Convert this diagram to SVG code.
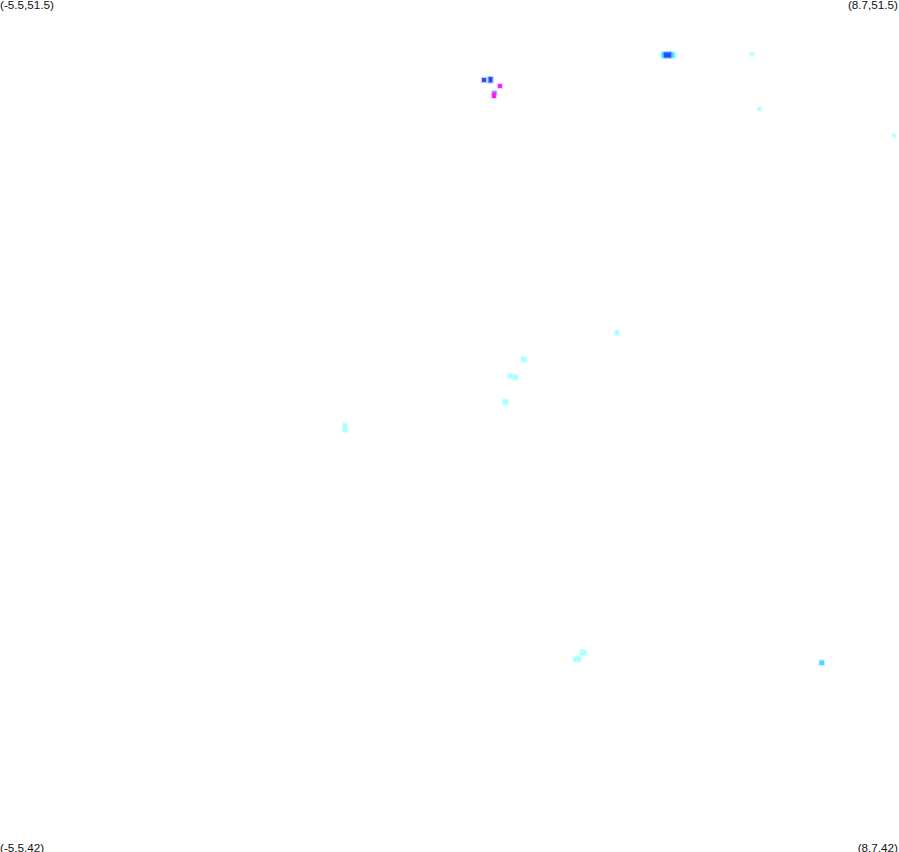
<svg xmlns="http://www.w3.org/2000/svg" width="899" height="852" viewBox="0 0 899 852">
<style>
text{font-family:"Liberation Sans",Arial,sans-serif;font-size:11.7px;fill:#111}
.c{fill:#aaffff;stroke:#aaffff;stroke-opacity:.4;stroke-width:2.2}
.m{fill:#55d5ff;stroke:#55d5ff;stroke-opacity:.35;stroke-width:2.2}
.b{fill:#2a45ff;stroke:#2a6aff;stroke-opacity:.35;stroke-width:2.2}
.p{fill:#ff11ff;stroke:#ff55ff;stroke-opacity:.3;stroke-width:2}
</style>
<rect width="899" height="852" fill="#fff"/>
<text x="0" y="9">(-5.5,51.5)</text>
<text x="898" y="9" text-anchor="end">(8.7,51.5)</text>
<text x="0" y="852">(-5.5,42)</text>
<text x="898" y="852" text-anchor="end">(8.7,42)</text>
<rect class="c" x="660" y="52" width="17" height="6" rx="2" opacity=".8"/>
<rect class="m" x="662" y="52.5" width="12" height="5" rx="1"/>
<rect class="b" x="664" y="52.5" width="7" height="5"/>
<rect class="c" x="750.5" y="52.5" width="3" height="3"/>
<rect class="c" x="758" y="107.5" width="3" height="3"/>
<rect class="c" x="892.5" y="134" width="3" height="3"/>
<rect class="b" x="482" y="78" width="4" height="4"/>
<rect class="b" x="488.5" y="77" width="4" height="5.5"/>
<rect class="p" x="498" y="84" width="4" height="4"/>
<rect class="b" x="492.5" y="91" width="4" height="4" opacity=".6"/>
<rect class="p" x="492" y="92.5" width="4" height="5.5"/>
<rect class="c" x="615" y="330.5" width="4" height="4.5"/>
<rect class="c" x="521" y="357" width="5.5" height="4.5"/>
<rect class="c" x="508" y="374" width="4.5" height="4"/>
<rect class="c" x="513" y="375" width="5" height="4.5"/>
<rect class="c" x="503" y="399.5" width="5" height="5"/>
<rect class="c" x="343" y="423.5" width="4" height="4"/>
<rect class="c" x="343" y="428" width="4" height="4"/>
<rect class="c" x="580" y="650" width="6" height="5"/>
<rect class="c" x="573.5" y="657" width="7.5" height="4.5"/>
<rect class="m" x="819.5" y="660.5" width="4.5" height="4.5"/>
</svg>
